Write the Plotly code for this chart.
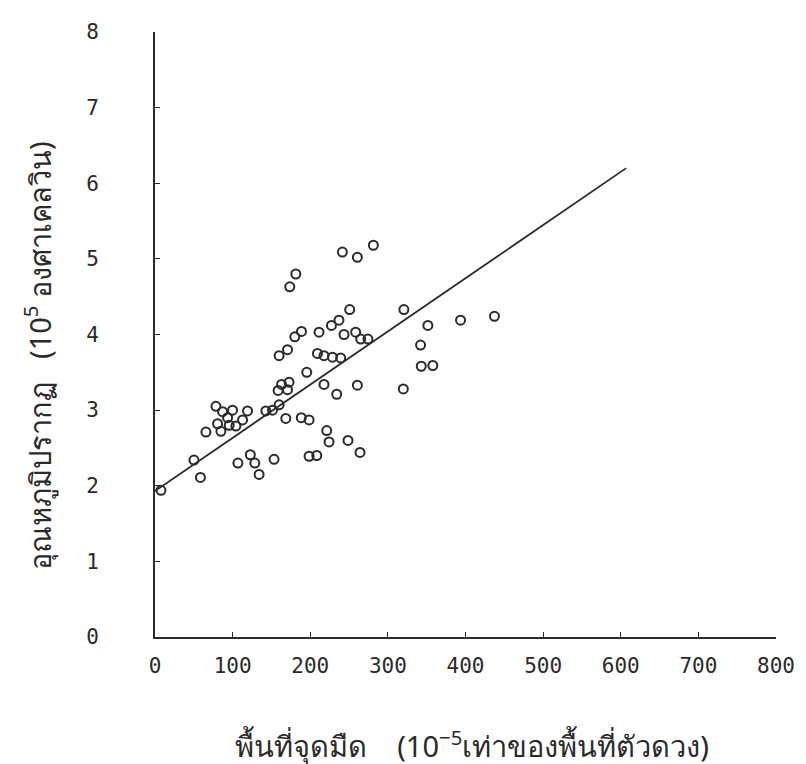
import plotly.graph_objects as go

# spot area (10^-5 of disc area) and apparent temperature (10^5 K)
spot_area = [7.7, 50.2, 58.5, 65.6, 78.5, 87.1, 99.9, 93.5, 80.6, 84.9,
             95.6, 104.2, 112.8, 119.2, 106.8, 122.8, 128.6, 134.1, 153.4, 142.8,
             151.4, 159.9, 158.6, 163.0, 172.7, 170.7, 159.9, 170.7, 168.5, 188.4,
             198.5, 195.5, 181.4, 173.6, 241.4, 260.7, 281.3, 250.8, 237.0, 227.3,
             188.7, 180.1, 211.3, 243.5, 258.5, 265.0, 274.3, 209.3, 217.7, 228.6,
             239.2, 217.7, 234.1, 260.7, 221.2, 224.2, 248.6, 264.1, 198.5, 208.4,
             320.6, 351.5, 393.6, 437.3, 342.1, 343.0, 357.9, 319.9]
temperature = [1.94, 2.34, 2.11, 2.71, 3.05, 2.98, 3.00, 2.90, 2.82, 2.72,
               2.80, 2.79, 2.87, 2.99, 2.30, 2.41, 2.30, 2.15, 2.35, 2.99,
               3.00, 3.07, 3.26, 3.34, 3.37, 3.27, 3.72, 3.80, 2.89, 2.90,
               2.87, 3.50, 4.80, 4.63, 5.09, 5.02, 5.18, 4.33, 4.19, 4.12,
               4.04, 3.97, 4.03, 4.00, 4.03, 3.94, 3.94, 3.75, 3.72, 3.70,
               3.69, 3.34, 3.21, 3.33, 2.73, 2.58, 2.60, 2.44, 2.39, 2.40,
               4.33, 4.12, 4.19, 4.24, 3.86, 3.58, 3.59, 3.28]

fit_x = [0, 607]
fit_y = [1.93, 6.20]

x_ticks = [0, 100, 200, 300, 400, 500, 600, 700, 800]
y_ticks = [0, 1, 2, 3, 4, 5, 6, 7, 8]

x_title = "พื้นที่จุดมืด    (10<sup>−5</sup>เท่าของพื้นที่ตัวดวง)"
y_title = "อุณหภูมิปรากฏ   (10<sup>5</sup> องศาเคลวิน)"

ink = "#2a2a2a"
mono = "DejaVu Sans Mono, Liberation Mono, monospace"
thai = "Noto Sans, DejaVu Sans, sans-serif"

fig = go.Figure()
fig.add_trace(go.Scatter(x=fit_x, y=fit_y, mode="lines",
                         line=dict(color=ink, width=1.8), showlegend=False,
                         hoverinfo="skip"))
fig.add_trace(go.Scatter(x=spot_area, y=temperature, mode="markers",
                         marker=dict(symbol="circle-open", size=9,
                                     color=ink, line=dict(width=2, color=ink)),
                         showlegend=False))

fig.update_layout(
    width=806, height=764,
    margin=dict(l=147, r=38, t=19, b=135),
    paper_bgcolor="white", plot_bgcolor="white",
    font=dict(family=mono, color=ink, size=21),
    xaxis=dict(range=[0, 800], tickvals=x_ticks, ticktext=[str(v) for v in x_ticks],
               showline=True, linewidth=1.6, linecolor=ink, showgrid=False,
               zeroline=False, ticks="inside", ticklen=5, tickcolor=ink,
               ticklabelstandoff=9, tickfont=dict(size=21, family=mono)),
    yaxis=dict(range=[0, 8], tickvals=y_ticks, ticktext=[str(v) for v in y_ticks],
               showline=True, linewidth=1.6, linecolor=ink, showgrid=False,
               zeroline=False, ticks="inside", ticklen=5, tickcolor=ink,
               ticklabelstandoff=50, tickfont=dict(size=21, family=mono)),
    annotations=[
        dict(text=x_title, xref="paper", yref="paper", x=0.51, y=-0.177,
             xanchor="center", yanchor="middle", showarrow=False,
             font=dict(size=29, family=thai, color=ink)),
        dict(text=y_title, xref="paper", yref="paper", x=-0.19, y=0.465,
             xanchor="center", yanchor="middle", textangle=-90, showarrow=False,
             font=dict(size=29, family=thai, color=ink)),
    ],
)

fig.write_html("out.html")
